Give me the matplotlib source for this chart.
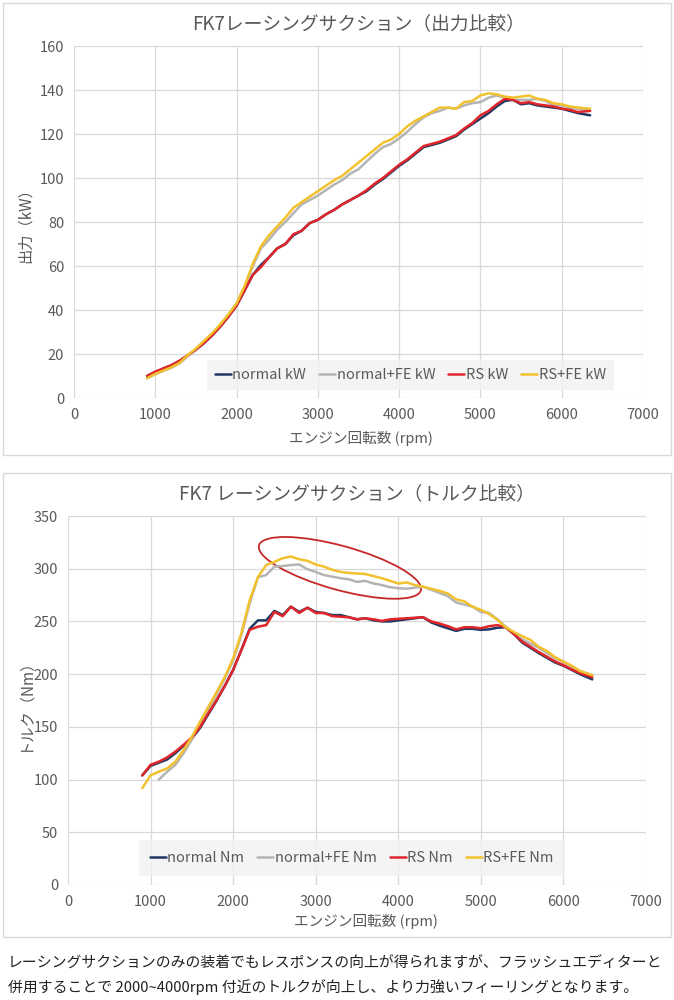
import numpy as np
import matplotlib
matplotlib.use('Agg')
import matplotlib.pyplot as plt
from matplotlib.patches import Ellipse, Rectangle
from matplotlib.transforms import ScaledTranslation

plt.rcParams['font.family'] = ['Noto Sans CJK JP', 'DejaVu Sans']

# rpm 900..6200 step 100, last sample at 6350
rpm = list(range(900, 6300, 100)) + [6350]

# --- output (kW) ---
normal_kw = [10, 11.8, 13.3, 14.8, 16.8, 19.3, 22, 25, 28.5, 32.5,
             37, 42, 49, 56, 60.5, 64, 68, 70, 74, 76,
             79.5, 81, 83.5, 85.5, 88, 90, 92, 94, 97, 99.5,
             102.5, 105.5, 108, 111, 114, 115, 116, 117.5, 119, 122,
             124.5, 127, 129.5, 132.5, 135, 135.5, 133.5, 134, 133, 132.5,
             132, 131.5, 130.5, 129.5, 128.5]
normal_fe_kw = [9, 10.8, 12.3, 13.8, 15.8, 19, 22.2, 25.6, 29.2, 33.2,
                37.8, 42.8, 50.5, 60, 68, 72, 76.5, 80, 84, 88,
                90, 92, 94.5, 97, 99, 102, 104, 107.5, 111, 114,
                115.5, 118, 121, 124.5, 127.5, 129.5, 130.5, 132, 131.5, 133,
                134, 134.5, 136.5, 137.5, 136.5, 135.5, 135.5, 135.5, 136, 135,
                133, 133, 132, 131.5, 131]
rs_kw = [10, 12, 13.5, 15, 17, 19.5, 22, 25, 28.5, 32.5,
         37, 42, 49, 56, 59.5, 64, 68, 70, 74.5, 76,
         79.5, 81, 83.5, 85.5, 88, 90, 92, 94.5, 97.5, 100,
         103, 106, 108.5, 111.5, 114.5, 115.5, 116.5, 118, 119.5, 122.5,
         125, 128.5, 130.5, 133.5, 136, 135.5, 134, 134.5, 133.5, 133,
         132.5, 131.5, 131, 130, 130.5]
rs_fe_kw = [9, 11, 12.5, 14, 16, 19.5, 22.5, 26, 29.5, 33.5,
            38, 43, 51, 61, 69, 74, 78, 82, 86.5, 89,
            91.5, 94, 96.5, 99, 101, 104, 107, 110, 113, 116,
            117.5, 120, 123.5, 126, 128, 130, 132, 132, 131.5, 134.5,
            135, 137.5, 138.5, 138, 137, 136.5, 137, 137.5, 136, 135.5,
            134, 133.5, 132.5, 132, 131.5]

# --- torque (Nm) ---
normal_nm = [104, 113, 116, 119, 125, 132, 139, 149, 162, 175,
             189, 204, 223, 243, 251, 251, 260, 256, 264, 259,
             263, 259, 258, 256, 256, 254, 252, 253, 251, 250,
             250, 251, 252, 253, 254, 249, 246, 243.5, 241, 243,
             243, 242, 242.5, 244, 244.5, 238, 230, 225, 220, 215.5,
             211, 208, 204, 200, 195]
normal_fe_nm = [None, None, 100, 107.5, 114, 125, 138, 153, 167, 181,
                196, 213, 237, 267, 292, 294, 302, 302.5, 303.5, 304,
                299.5, 297, 294, 292.5, 291, 290, 287.5, 288.5, 286, 284.5,
                282.5, 281.5, 281, 282, 283, 280, 277, 274, 268, 266,
                264, 259, 258, 252, 245, 238, 233, 229, 225, 220,
                215, 211.5, 207, 203, 199]
rs_nm = [104, 114, 117, 121, 126.5, 133, 140, 150, 163, 175.5,
         189, 204, 223, 242, 245, 246.5, 259, 255, 264, 258,
         263, 258, 258, 255, 254.5, 254, 252, 253, 252, 250.5,
         252, 252.5, 253, 253.5, 254, 250, 248, 245.5, 242.5, 244.5,
         244.5, 243.5, 245.5, 246.5, 244.5, 238, 231, 226, 221, 216.5,
         212, 208.5, 204.5, 201, 197]
rs_fe_nm = [92, 104, 107.5, 110.5, 117, 128, 140.5, 155, 169, 183,
            197.5, 215, 239, 270, 292, 303.5, 306.5, 310, 311.5, 309,
            307.5, 304, 302, 299, 297, 296, 295.5, 295, 293, 291,
            288.5, 286, 287, 284.5, 283, 281, 279, 276.5, 271, 269,
            264, 261, 257, 251.5, 244.5, 240, 236, 232.5, 226, 222,
            216, 212, 208, 203, 199]

colors = ['#1f3864', '#b4b4b4', '#e0262b', '#f2c12e']
txt = '#595959'
grid = '#d9d9d9'

fig = plt.figure(figsize=(6.74, 10), dpi=100)

# chart frames
for y0, h in [(0.545, 0.452), (0.063, 0.464)]:
    fig.patches.append(Rectangle((0.004, y0), 0.992, h, transform=fig.transFigure,
                                 fill=False, edgecolor=grid, linewidth=1))


def style(ax, ymax, ystep):
    ax.set_xlim(0, 7000)
    ax.set_ylim(0, ymax)
    ax.set_xticks(range(0, 7001, 1000))
    ax.set_yticks(range(0, ymax + 1, ystep))
    ax.grid(True, color=grid, linewidth=0.9)
    ax.set_axisbelow(True)
    for s in ax.spines.values():
        s.set_visible(False)
    ax.tick_params(length=0, labelsize=10.5, labelcolor=txt)
    ax.tick_params(axis='y', pad=7)
    ax.tick_params(axis='x', pad=7)


def draw(ax, series, names):
    for y, c, n in zip(series, colors, names):
        xs = [r for r, v in zip(rpm, y) if v is not None]
        ys = [v for v in y if v is not None]
        ax.plot(xs, ys, color=c, linewidth=1.8, label=n, solid_capstyle='round')


# top chart
ax1 = fig.add_axes([74 / 674, 0.602, 569 / 674, 0.352])
style(ax1, 160, 20)
draw(ax1, [normal_kw, normal_fe_kw, rs_kw, rs_fe_kw],
     ['normal kW', 'normal+FE kW', 'RS kW', 'RS+FE kW'])
ax1.set_title('FK7レーシングサクション（出力比較）', fontsize=13.5, color=txt, pad=12)
ax1.set_xlabel('エンジン回転数 (rpm)', fontsize=10.5, color=txt)
ax1.set_ylabel('出力（kW）', fontsize=11, color=txt)
ax1.xaxis.set_label_coords(0.504, -0.094)
ax1.yaxis.set_label_coords(-0.07, 0.5)
leg = ax1.legend(loc='center', bbox_to_anchor=(0.591, 0.065), ncol=4, frameon=True,
                 fontsize=10.5, handlelength=1.1, handletextpad=0.1, columnspacing=0.9,
                 borderpad=0.55, fancybox=False)
leg.get_frame().set_facecolor('#f2f2f2')
leg.get_frame().set_edgecolor('none')
for t in leg.get_texts():
    t.set_color(txt)

# bottom chart
ax2 = fig.add_axes([68 / 674, 0.115, 578 / 674, 0.369])
style(ax2, 350, 50)
draw(ax2, [normal_nm, normal_fe_nm, rs_nm, rs_fe_nm],
     ['normal Nm', 'normal+FE Nm', 'RS Nm', 'RS+FE Nm'])
ax2.set_title('FK7 レーシングサクション（トルク比較）', fontsize=13.5, color=txt, pad=12)
ax2.set_xlabel('エンジン回転数 (rpm)', fontsize=10.5, color=txt)
ax2.set_ylabel('トルク（Nm）', fontsize=11, color=txt)
ax2.xaxis.set_label_coords(0.516, -0.079)
ax2.yaxis.set_label_coords(-0.062, 0.5)
leg2 = ax2.legend(loc='center', bbox_to_anchor=(0.491, 0.073), ncol=4, frameon=True,
                  fontsize=10.5, handlelength=1.1, handletextpad=0.1, columnspacing=0.9,
                  borderpad=0.75, fancybox=False)
leg2.get_frame().set_facecolor('#f2f2f2')
leg2.get_frame().set_edgecolor('none')
for t in leg2.get_texts():
    t.set_color(txt)

# highlight ellipse around 2300-4300 rpm
el = Ellipse((0, 0), 1.68, 0.44, angle=-15.5, fill=False, edgecolor='#c62828', linewidth=1.3,
             transform=fig.dpi_scale_trans + ScaledTranslation(3293, 300.8, ax2.transData))
ax2.add_patch(el)

# caption
fig.text(8 / 674, 1 - 964 / 1000,
         'レーシングサクションのみの装着でもレスポンスの向上が得られますが、フラッシュエディターと',
         fontsize=10.7, color='#222222', va='center', ha='left')
fig.text(8 / 674, 1 - 987 / 1000,
         '併用することで 2000~4000rpm 付近のトルクが向上し、より力強いフィーリングとなります。',
         fontsize=10.7, color='#222222', va='center', ha='left')

fig.savefig('out.png', dpi=100)
